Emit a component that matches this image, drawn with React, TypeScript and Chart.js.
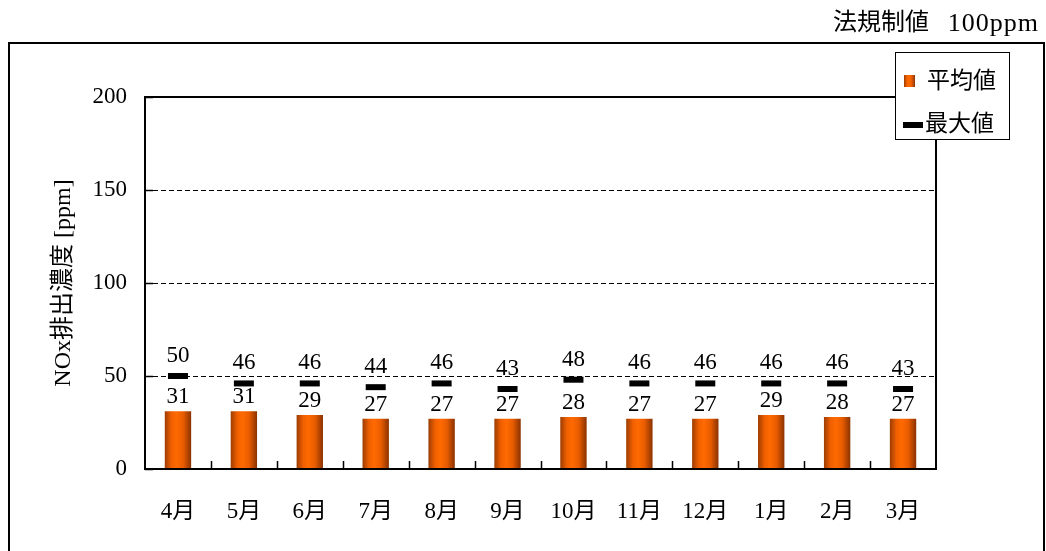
import React, { useEffect, useRef } from "react";
import { Chart, registerables } from "chart.js";

Chart.register(...registerables);

const categories = ["4月", "5月", "6月", "7月", "8月", "9月", "10月", "11月", "12月", "1月", "2月", "3月"];
const averageValues = [31, 31, 29, 27, 27, 27, 28, 27, 27, 29, 28, 27];
const maxValues = [50, 46, 46, 44, 46, 43, 48, 46, 46, 46, 46, 43];
const yTickValues = [0, 50, 100, 150, 200];
const seriesNames = ["平均値", "最大値"];
const yTitle = "NOx排出濃度 [ppm]";
const limitLabel = "法規制値";
const limitValue = "100ppm";

const FONT = "'Liberation Serif', 'Noto Sans CJK JP', serif";
const FS = 23;

function barGradient(ctx: CanvasRenderingContext2D, x0: number, x1: number) {
  const g = ctx.createLinearGradient(x0, 0, x1, 0);
  g.addColorStop(0, "#9C3C00");
  g.addColorStop(0.25, "#F06000");
  g.addColorStop(0.45, "#FF6A00");
  g.addColorStop(0.7, "#E85C00");
  g.addColorStop(1, "#8A3200");
  return g;
}

const decorPlugin = {
  id: "decor",
  beforeDatasetsDraw(chart: any) {
    const ctx = chart.ctx as CanvasRenderingContext2D;
    const meta = chart.getDatasetMeta(0);
    meta.data.forEach((bar: any) => {
      const { x, width } = bar.getProps(["x", "width"], true);
      bar.options = { ...bar.options, backgroundColor: barGradient(ctx, x - width / 2, x + width / 2) };
    });
  },
  afterDatasetsDraw(chart: any) {
    const ctx = chart.ctx as CanvasRenderingContext2D;
    const { left, right, top, bottom } = chart.chartArea;
    const xs = chart.scales.x;
    const ys = chart.scales.y;
    ctx.save();
    ctx.strokeStyle = "#000";
    ctx.lineWidth = 1.5;
    ctx.beginPath();
    yTickValues.forEach((v) => {
      const y = Math.round(ys.getPixelForValue(v)) + 0.5;
      ctx.moveTo(left, y);
      ctx.lineTo(left + 8, y);
    });
    for (let i = 1; i < categories.length; i++) {
      const x = Math.round((xs.getPixelForValue(i - 1) + xs.getPixelForValue(i)) / 2) + 0.5;
      ctx.moveTo(x, bottom);
      ctx.lineTo(x, bottom - 8);
    }
    ctx.stroke();
    ctx.lineWidth = 2;
    ctx.strokeRect(left, top, right - left, bottom - top);
    ctx.fillStyle = "#000";
    ctx.font = `${FS}px ${FONT}`;
    ctx.textAlign = "center";
    ctx.textBaseline = "middle";
    const barMeta = chart.getDatasetMeta(0);
    barMeta.data.forEach((bar: any, i: number) => {
      ctx.fillText(String(averageValues[i]), bar.x, bar.y - 14);
    });
    const maxMeta = chart.getDatasetMeta(1);
    maxMeta.data.forEach((pt: any, i: number) => {
      ctx.fillText(String(maxValues[i]), pt.x, pt.y - 20);
    });
    ctx.restore();
  },
  afterDraw(chart: any) {
    const ctx = chart.ctx as CanvasRenderingContext2D;
    ctx.save();
    ctx.fillStyle = "#fff";
    ctx.fillRect(895, 52, 115, 88);
    ctx.strokeStyle = "#000";
    ctx.lineWidth = 1;
    ctx.strokeRect(895.5, 52.5, 114, 87);
    ctx.fillStyle = barGradient(ctx, 904, 915);
    ctx.fillRect(904, 75, 11, 12);
    ctx.fillStyle = "#000";
    ctx.fillRect(903, 122, 20, 6);
    ctx.font = `${FS}px ${FONT}`;
    ctx.textAlign = "left";
    ctx.textBaseline = "middle";
    ctx.fillText(seriesNames[0], 927, 82);
    ctx.fillText(seriesNames[1], 925, 125);
    ctx.font = `24px ${FONT}`;
    ctx.textAlign = "left";
    ctx.fillText(limitLabel, 833, 24);
    ctx.textAlign = "right";
    ctx.font = `26px ${FONT}`;
    (ctx as any).letterSpacing = "1px";
    ctx.fillText(limitValue, 1039, 24);
    (ctx as any).letterSpacing = "0px";
    ctx.lineWidth = 2;
    ctx.strokeRect(9, 43, 1035, 530);
    ctx.restore();
  },
};

export default function App() {
  const ref = useRef<HTMLCanvasElement | null>(null);
  useEffect(() => {
    if (!ref.current) return;
    const chart = new Chart(ref.current, {
      type: "bar",
      data: {
        labels: categories,
        datasets: [
          {
            type: "bar",
            label: seriesNames[0],
            data: averageValues,
            backgroundColor: "#FF6600",
            barPercentage: 0.4,
            categoryPercentage: 1,
            order: 2,
          },
          {
            type: "line",
            label: seriesNames[1],
            data: maxValues,
            showLine: false,
            pointStyle: "line",
            pointRadius: 10,
            pointHoverRadius: 10,
            pointBorderWidth: 6,
            pointBorderColor: "#000",
            pointBackgroundColor: "#000",
            borderColor: "#000",
            order: 1,
          } as any,
        ],
      },
      options: {
        animation: false,
        responsive: false,
        devicePixelRatio: 1,
        events: [],
        layout: { padding: { top: 97, right: 110, left: 0, bottom: 0 } },
        plugins: { legend: { display: false }, tooltip: { enabled: false } },
        scales: {
          x: {
            grid: { display: false },
            border: { display: false },
            ticks: { color: "#000", font: { family: FONT, size: FS }, padding: 21, maxRotation: 0, autoSkip: false },
            afterFit: (s: any) => {
              s.height = 82;
            },
          },
          y: {
            min: 0,
            max: 200,
            afterBuildTicks: (s: any) => {
              s.ticks = yTickValues.map((v) => ({ value: v }));
            },
            grid: {
              drawTicks: false,
              lineWidth: 1,
              color: (c: any) => (c.tick && (c.tick.value === 0 || c.tick.value === 200) ? "rgba(0,0,0,0)" : "#000"),
              borderDash: [5, 3],
            } as any,
            border: { display: false, dash: [5, 3] },
            ticks: { color: "#000", font: { family: FONT, size: FS }, padding: 18 },
            title: {
              display: true,
              text: yTitle,
              color: "#000",
              font: { family: FONT, size: 24 },
              padding: { top: 49, bottom: 0 },
            },
            afterFit: (s: any) => {
              s.width = 145;
            },
          },
        },
      },
      plugins: [decorPlugin],
    });
    return () => chart.destroy();
  }, []);
  return (
    <div style={{ position: "absolute", left: 0, top: 0, width: 1046, height: 551, background: "#fff" }}>
      <canvas ref={ref} width={1046} height={551} style={{ display: "block" }} />
    </div>
  );
}
